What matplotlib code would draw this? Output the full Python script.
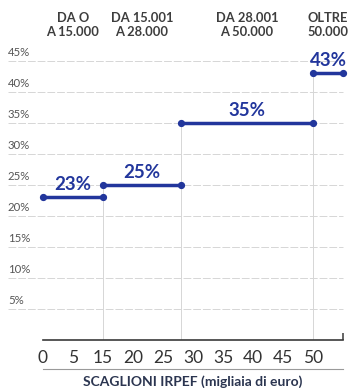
import numpy as np
import matplotlib
matplotlib.use("Agg")
import matplotlib.pyplot as plt
import matplotlib.transforms as mtransforms
from matplotlib.lines import Line2D

# ---- data ----
bracket_start = [0, 15, 28, 50]
bracket_end = [15, 28, 50, 55]
rates = [23, 25, 35, 43]
rate_labels = ["23%", "25%", "35%", "43%"]
bracket_headers = ["DA O\nA 15.000", "DA 15.001\nA 28.000", "DA 28.001\nA 50.000", "OLTRE\n50.000"]
xtick_values = [0, 5, 15, 20, 25, 30, 35, 40, 45, 50]
xtick_labels = ["0", "5", "15", "20", "25", "30", "35", "40", "45", "50"]
ytick_values = [5, 10, 15, 20, 25, 30, 35, 40, 45]
ytick_labels = ["5%", "10%", "15%", "20%", "25%", "30%", "35%", "40%", "45%"]
xlabel = "SCAGLIONI IRPEF (migliaia di euro)"

# piecewise axis used by the original graphic
scale_pts = [0, 5, 15, 55]
scale_pos = [0, 1, 2, 10]
def fwd(x):
    return np.interp(x, scale_pts, scale_pos)
def inv(y):
    return np.interp(y, scale_pos, scale_pts)

BLUE = "#22369c"
GRID = "#d6d6d6"

plt.rcParams['font.family'] = ['Lato', 'DejaVu Sans']

fig = plt.figure(figsize=(3.49, 3.88), dpi=100)
W, H = 349, 388
ax = fig.add_axes([43 / W, (H - 340) / H, 300 / W, 279 / H])
ax.set_xscale('function', functions=(fwd, inv))
ax.set_xlim(0, 55)
ax.set_ylim(0, 45)

for s in ['top', 'right', 'left']:
    ax.spines[s].set_visible(False)
ax.spines['bottom'].set_color('#3a3a3a')
ax.spines['bottom'].set_linewidth(1.2)

# horizontal grid lines extending under the y labels
for v in ytick_values:
    ax.axhline(v, xmin=-0.117, xmax=1.0, color=GRID, lw=0.7, ls=(0, (8, 2)),
               clip_on=False, zorder=0)

# y labels above grid lines
ytrans = mtransforms.blended_transform_factory(ax.transAxes, ax.transData)
yoff = mtransforms.offset_copy(ytrans, fig=fig, x=0, y=2.5, units='points')
for v, lab in zip(ytick_values, ytick_labels):
    ax.text(-0.117, v, lab, transform=yoff, ha='left', va='bottom',
            fontsize=8.2, color='#555555')
ax.set_yticks([])

# vertical guide lines at bracket limits
ax.vlines(bracket_start[1:], 0, rates[1:], color=GRID, lw=0.7, zorder=0)

# steps
for a, b, r in zip(bracket_start, bracket_end, rates):
    ax.plot([a, b], [r, r], color=BLUE, lw=2.5, solid_capstyle='round', zorder=3)
    ax.plot([a, b], [r, r], 'o', color=BLUE, ms=4.2, zorder=4, clip_on=False)

# value labels
loff = mtransforms.offset_copy(ax.transData, fig=fig, x=0, y=3, units='points')
for a, b, r, lab in zip(bracket_start, bracket_end, rates, rate_labels):
    xm = inv((fwd(a) + fwd(b)) / 2)
    ax.text(xm, r, lab, transform=loff, ha='center', va='bottom',
            fontsize=13.5, fontweight='bold', color=BLUE)

# header labels
htrans = mtransforms.blended_transform_factory(ax.transData, fig.transFigure)
for a, b, lab in zip(bracket_start, bracket_end, bracket_headers):
    xm = inv((fwd(a) + fwd(b)) / 2)
    ax.text(xm, 1 - 25 / H, lab, transform=htrans, ha='center', va='center',
            fontsize=9.3, fontweight='bold', color='#3d3d3d', linespacing=1.1)

# x ticks
ax.set_xticks(xtick_values, xtick_labels)
ax.tick_params(axis='x', which='major', length=0, pad=7, labelsize=12.5,
               labelcolor='#333333')
ax.set_xticks([0, 5, 20, 25, 30, 35, 40, 45, 50, 55], minor=True)
ax.tick_params(axis='x', which='minor', direction='in', length=5, width=1.1,
               color='#3a3a3a')

# rule under the tick labels
ax.plot([0, 1], [-29 / 279, -29 / 279], transform=ax.transAxes,
        color='#9a9a9a', lw=0.8, clip_on=False)

ax.set_xlabel(xlabel, fontsize=10, fontweight='bold', color='#2b3550', labelpad=7)

fig.savefig("out.png", dpi=100)
